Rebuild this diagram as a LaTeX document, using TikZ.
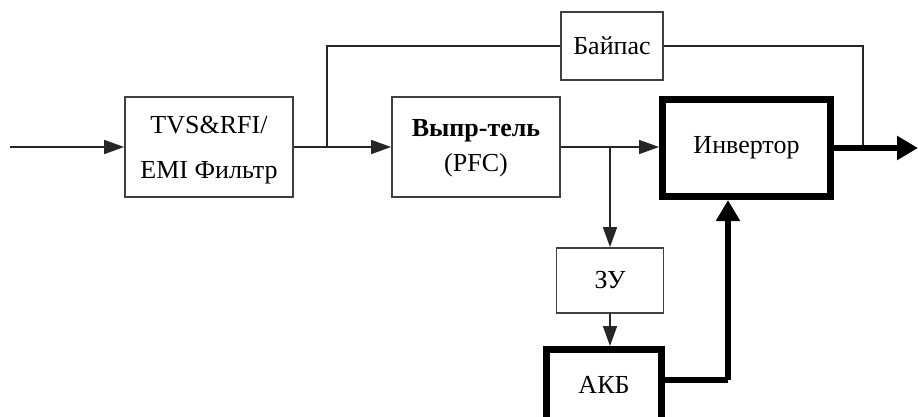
\documentclass[tikz,border=0pt]{standalone}
\usepackage{fontspec}
\setmainfont{Liberation Serif}
\newfontfamily\diagfont{Liberation Serif}
\usetikzlibrary{arrows.meta}
\newcommand\twolines[3]{\raisebox{#1}{\begin{tabular}{@{}c@{}}#2\\#3\end{tabular}}}
\begin{document}
\begin{tikzpicture}[x=1pt,y=-1pt,
  thinbox/.style={draw=black!75, line width=1.8pt, rectangle, inner sep=0pt, align=center, font=\diagfont\fontsize{26}{45}\selectfont},
  thickbox/.style={draw=black, line width=7pt, rectangle, inner sep=0pt, align=center, font=\diagfont\fontsize{26}{45}\selectfont},
  conn/.style={draw=black!85, line width=1.6pt},
  thinarrow/.style={conn, -{Triangle[length=20pt,width=14pt]}},
  thickline/.style={draw=black, line width=6.5pt},
  thickarrow/.style={thickline, -{Triangle[length=21pt,width=23pt]}}
]
\useasboundingbox (0,0) rectangle (918,416);
\fill[white] (0,0) rectangle (918,416);

\node[thinbox, minimum width=168pt, minimum height=100pt] (filt) at (209,147) {\twolines{-6pt}{TVS\&RFI/}{EMI Фильтр}};
\node[thinbox, minimum width=168pt, minimum height=100pt, font=\diagfont\fontsize{26}{35}\selectfont] (pfc) at (476,147) {\twolines{-4pt}{\textbf{Выпр-тель}}{(PFC)}};
\node[thinbox, minimum width=102pt, minimum height=68pt] (byp) at (612,46) {Байпас};
\node[thickbox, minimum width=168pt, minimum height=97pt] (inv) at (746.5,148) {Инвертор};
\node[thinbox, minimum width=107pt, minimum height=65pt] (zu) at (610,280.5) {ЗУ};
\node[thickbox, minimum width=115pt, minimum height=70.5pt] (akb) at (604,384.75) {АКБ};

\coordinate (in) at (10,147);
\coordinate (split1) at (327,147);
\coordinate (split2) at (610,147);
\coordinate (bypup) at (327,46);
\coordinate (bypr) at (863,46);
\coordinate (bypj) at (863,148);
\coordinate (out) at (918,148);
\coordinate (akbr) at (728,380);

\draw[thinarrow] (in) -- (filt.west);
\draw[thinarrow] (filt.east) -- (pfc.west);
\draw[conn] (split1) -- (bypup) -- (byp.west);
\draw[conn] (byp.east) -- (bypr) -- (bypj);
\draw[thinarrow] (pfc.east) -- (pfc.east -| inv.west);
\draw[thinarrow] (split2) -- (zu.north);
\draw[thinarrow] (zu.south) -- (zu.south |- akb.north);
\draw[thickarrow] (inv.east) -- (out);
\draw[thickline] (akb.east |- akbr) -- (akbr);
\draw[thickarrow] (akbr) -- (akbr |- inv.south);
\end{tikzpicture}
\end{document}
